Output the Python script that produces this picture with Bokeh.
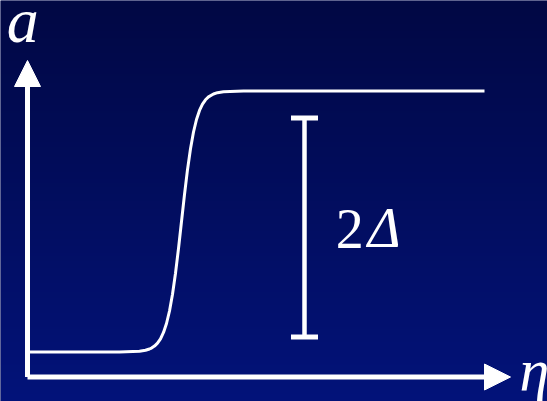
import numpy as np
from bokeh.plotting import figure
from bokeh.models import Range1d, Arrow, NormalHead
from bokeh.core.properties import value
from bokeh.embed import file_html
from bokeh.resources import INLINE

# Order parameter a(eta): a smooth step from the low plateau to the high plateau
eta = [0.0, 2.3, 2.8, 2.95, 3.05, 3.1, 3.175, 3.25, 3.325, 3.4, 3.475, 3.55,
       3.625, 3.7, 3.775, 3.85, 3.925, 4.0, 4.075, 4.15, 4.225, 4.3, 4.375,
       4.45, 4.525, 4.65, 4.75, 4.9, 5.4, 11.425]
a_vals = [0.625, 0.625, 0.643, 0.668, 0.70, 0.723, 0.773, 0.845, 0.953, 1.113,
          1.338, 1.65, 2.07, 2.593, 3.213, 3.888, 4.563, 5.183, 5.705, 6.125,
          6.438, 6.663, 6.823, 6.93, 7.003, 7.075, 7.108, 7.133, 7.15, 7.15]

# The 2-Delta gap marker
gap_eta = [6.925]
gap_lo = [1.0]
gap_hi = [6.475]

# Axis extents (arrow tips)
eta_axis_end = 12.075
a_axis_end = 7.9125

x0, x1 = -0.675, 13.0
y0, y1 = -0.6125, 9.4125

BG = "#020b55"
WHITE = "#ffffff"

p = figure(width=547, height=401, x_range=Range1d(x0, x1), y_range=Range1d(y0, y1),
           x_axis_type=None, y_axis_type=None, toolbar_location=None,
           output_backend="svg", min_border=0, outline_line_color=None,
           background_fill_color=BG, border_fill_color=BG)
p.grid.visible = False

# Vertical navy gradient behind everything
rows = 401
t = np.linspace(0.0, 1.0, rows)[:, None]  # 0 at bottom, 1 at top
bottom = np.array([3, 19, 122])
top = np.array([1, 8, 68])
rgb = (bottom * (1 - t) + top * t).astype(np.uint32)
img = np.empty((rows, 2), dtype=np.uint32)
view = img.view(dtype=np.uint8).reshape((rows, 2, 4))
view[:, :, 0] = rgb[:, 0:1]
view[:, :, 1] = rgb[:, 1:2]
view[:, :, 2] = rgb[:, 2:3]
view[:, :, 3] = 255
p.image_rgba(image=[img], x=x0, y=y0, dw=x1 - x0, dh=y1 - y0)

# Axes as arrows
p.add_layout(Arrow(x_start=0, y_start=0, x_end=eta_axis_end, y_end=0,
                   line_color=WHITE, line_width=5,
                   end=NormalHead(size=26, fill_color=WHITE, line_color=WHITE, line_width=1)))
p.add_layout(Arrow(x_start=0, y_start=0, x_end=0, y_end=a_axis_end,
                   line_color=WHITE, line_width=5,
                   end=NormalHead(size=26, fill_color=WHITE, line_color=WHITE, line_width=1)))

# The curve
p.line(eta, a_vals, line_color=WHITE, line_width=3)

# Gap marker: vertical bar with flat caps
p.segment(x0=gap_eta, y0=gap_lo, x1=gap_eta, y1=gap_hi, line_color=WHITE, line_width=4.5)
p.dash(x=gap_eta * 2, y=gap_lo + gap_hi, size=27, line_color=WHITE, line_width=5)

serif = value("Liberation Serif")


def put(x, y, s, size, style):
    # text glyphs anchored at their bottom-left corner
    p.text(x=[x], y=[y], text=[s], text_font=serif, text_font_style=style,
           text_font_size=size, text_color=WHITE, text_baseline="bottom",
           text_align="left")


# 2-Delta annotation beside the bar
put(gap_eta[0] + 0.78, 3.15 + 0.07, "2", "56px", "normal")
put(gap_eta[0] + 1.58, 3.15 - 0.2, "\u0394", "56px", "italic")

# Axis labels
put(-0.52, 8.36 - 0.34, "a", "64px", "italic")
put(12.3, -0.34 - 0.32, "\u03b7", "60px", "italic")

open("out.html", "w").write(file_html(p, INLINE))
